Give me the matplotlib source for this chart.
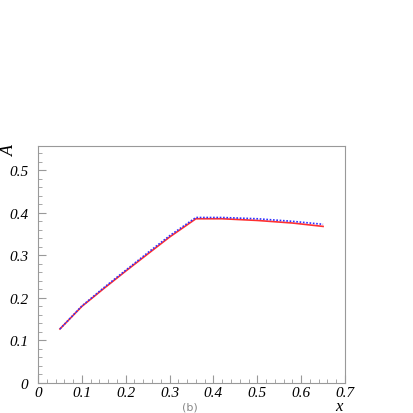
import matplotlib.pyplot as plt
import numpy as np
from matplotlib.ticker import MultipleLocator

# values
x_red = [0.05, 0.10, 0.15, 0.20, 0.25, 0.30, 0.36, 0.42, 0.50, 0.58, 0.65]
a_red = [0.127, 0.180, 0.222, 0.263, 0.303, 0.343, 0.386, 0.386, 0.382, 0.376, 0.368]
x_blue = [0.05, 0.10, 0.15, 0.20, 0.25, 0.30, 0.36, 0.42, 0.50, 0.58, 0.65]
a_blue = [0.127, 0.181, 0.224, 0.265, 0.306, 0.346, 0.389, 0.389, 0.386, 0.380, 0.373]

xticks = [0, 0.1, 0.2, 0.3, 0.4, 0.5, 0.6, 0.7]
yticks = [0, 0.1, 0.2, 0.3, 0.4, 0.5]

plt.rcParams['font.family'] = ['Liberation Serif', 'DejaVu Serif']

fig = plt.figure(figsize=(4.14, 4.14), dpi=100)
ax = fig.add_axes([38 / 414, 30 / 414, 307 / 414, 237 / 414])

ax.plot(x_red, a_red, color='#ff3030', lw=1.2)
ax.plot(x_blue, a_blue, color='#3030ff', lw=1.2, ls=(0, (1, 1)))

ax.set_xlim(0, 0.7)
ax.set_ylim(0, 0.557)
ax.set_xticks(xticks)
ax.set_yticks(yticks)
ax.set_xticklabels(['0'] + ['%.1f' % t for t in xticks[1:]], style='italic', fontsize=11)
ax.set_yticklabels(['0'] + ['%.1f' % t for t in yticks[1:]], style='italic', fontsize=11)
ax.xaxis.set_minor_locator(MultipleLocator(0.02))
ax.yaxis.set_minor_locator(MultipleLocator(0.02))
ax.tick_params(which='both', direction='in', color='#999999', top=False, right=False)
ax.tick_params(which='major', length=6)
ax.tick_params(axis='y', which='major', pad=7)
ax.tick_params(axis='x', which='major', pad=2)
ax.tick_params(which='minor', length=3)
for s in ax.spines.values():
    s.set_color('#999999')
    s.set_linewidth(0.8)

fig.text(9 / 414, 1 - 150 / 414, 'A', rotation=90, ha='center', va='center',
         style='italic', fontsize=13)
fig.text(339 / 414, 1 - 407 / 414, 'x', ha='center', va='center',
         style='italic', fontsize=12)
fig.text(190 / 414, 1 - 408 / 414, '(b)', ha='center', va='center',
         fontsize=8, color='#888888', family='DejaVu Sans')

fig.savefig('out.png', dpi=100)
